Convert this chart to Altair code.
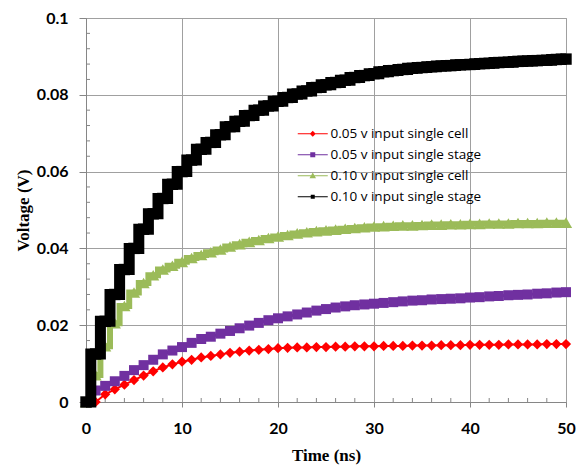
import altair as alt
import pandas as pd

# ---------------- data ----------------
time_ns = list(range(51))

series_names = [
    "0.05 v input single cell",
    "0.05 v input single stage",
    "0.10 v input single cell",
    "0.10 v input single stage",
]

red_cell_005 = [
    0.0, 0.0, 0.002, 0.0033, 0.0045, 0.0057, 0.0069, 0.008, 0.009, 0.0098,
    0.0105, 0.011, 0.0116, 0.012, 0.0124, 0.0128, 0.0131, 0.0134, 0.0136, 0.0138,
    0.014, 0.0141, 0.0142, 0.0142, 0.0143, 0.0143, 0.0144, 0.0144, 0.0145, 0.0145,
    0.0145, 0.0146, 0.0146, 0.0146, 0.0147, 0.0147, 0.0147, 0.0148, 0.0148, 0.0148,
    0.0149, 0.0149, 0.0149, 0.0149, 0.015, 0.015, 0.015, 0.015, 0.0151, 0.0151,
    0.0151,
]

purple_stage_005 = [
    0.0, 0.003, 0.0042, 0.0054, 0.0068, 0.0083, 0.0096, 0.011, 0.0124, 0.0134,
    0.0143, 0.0154, 0.0164, 0.017, 0.0178, 0.0185, 0.0192, 0.0199, 0.0206, 0.0213,
    0.0218, 0.0223, 0.0228, 0.0233, 0.0238, 0.0242, 0.0246, 0.0249, 0.0252, 0.0254,
    0.0256, 0.0258, 0.026, 0.0262, 0.0264, 0.0265, 0.0267, 0.0268, 0.0269, 0.027,
    0.0272, 0.0273, 0.0275, 0.0276, 0.0278, 0.0279, 0.028, 0.0282, 0.0283, 0.0285,
    0.0286,
]

green_cell_010 = [
    0.0, 0.007, 0.0145, 0.0205, 0.025, 0.0285, 0.031, 0.033, 0.0345, 0.0355,
    0.0365, 0.0375, 0.0383, 0.039, 0.0397, 0.0405, 0.0411, 0.0417, 0.0422, 0.0427,
    0.0431, 0.0435, 0.0439, 0.0442, 0.0445, 0.0447, 0.0449, 0.0451, 0.0453, 0.0455,
    0.0457, 0.0458, 0.0459, 0.046, 0.046, 0.0461, 0.0462, 0.0462, 0.0463, 0.0463,
    0.0464, 0.0464, 0.0465, 0.0465, 0.0465, 0.0466, 0.0466, 0.0466, 0.0467, 0.0467,
    0.0467,
]

black_stage_010 = [
    0.0, 0.0125, 0.021, 0.028, 0.0345, 0.040, 0.045, 0.049, 0.053, 0.0567,
    0.060, 0.063, 0.0658, 0.0676, 0.0696, 0.0717, 0.0731, 0.0746, 0.076, 0.0771,
    0.0783, 0.0793, 0.0802, 0.081, 0.0819, 0.0826, 0.0832, 0.0838, 0.0845, 0.085,
    0.0855, 0.086, 0.0863, 0.0866, 0.0869, 0.0871, 0.0873, 0.0875, 0.0876, 0.0878,
    0.0879, 0.0881, 0.0882, 0.0884, 0.0885, 0.0887, 0.0888, 0.0889, 0.089, 0.0892,
    0.0893,
]

series_values = [red_cell_005, purple_stage_005, green_cell_010, black_stage_010]
colors = ["#FF0000", "#7030A0", "#9BBB59", "#000000"]

x_major = [0, 10, 20, 30, 40, 50]
x_minor = [2, 4, 6, 8, 12, 14, 16, 18, 22, 24, 26, 28, 32, 34, 36, 38, 42, 44, 46, 48]
y_major = [0, 0.02, 0.04, 0.06, 0.08, 0.1]
y_minor = [0.004, 0.008, 0.012, 0.016, 0.024, 0.028, 0.032, 0.036, 0.044, 0.048,
           0.052, 0.056, 0.064, 0.068, 0.072, 0.076, 0.084, 0.088, 0.092, 0.096]

# ---------------- styling ----------------
W, H = 480, 384
GRID = "#a0a0a0"
AXIS = "#868686"

marker_shapes = ["diamond", "square", "triangle-up", "square"]
marker_sizes = [105, 100, 150, 130]
line_widths = [2, 3, 6, 11]
line_interp = ["linear", "linear", "step", "step"]

# legend symbols: thin line with a small marker in its middle
legend_paths = [
    "M-1,-0.11L5,-0.11L5,0.11L-1,0.11Z M2,-0.6L2.6,0L2,0.6L1.4,0Z",
    "M-1,-0.11L5,-0.11L5,0.11L-1,0.11Z M1.5,-0.5L2.5,-0.5L2.5,0.5L1.5,0.5Z",
    "M-1,-0.11L5,-0.11L5,0.11L-1,0.11Z M2,-0.65L2.65,0.5L1.35,0.5Z",
    "M-1,-0.11L5,-0.11L5,0.11L-1,0.11Z M1.6,-0.4L2.4,-0.4L2.4,0.4L1.6,0.4Z",
]

xscale = alt.Scale(domain=[0, 50], nice=False, zero=False)
yscale = alt.Scale(domain=[0, 0.1], nice=False)

x_axis = alt.Axis(
    values=x_major, format="d", grid=True, gridColor=GRID, gridWidth=1,
    domainColor=AXIS, tickColor=AXIS, tickSize=5, labelFlush=False,
    labelFont="Lato", labelFontWeight="bold", labelFontSize=16, labelColor="black",
    labelPadding=13, title="Time (ns)", titleFont="Liberation Serif",
    titleFontSize=17, titleFontWeight="bold", titleColor="black", titlePadding=11,
)
y_axis = alt.Axis(
    values=y_major, format="~g", grid=True, gridColor=GRID, gridWidth=1,
    domainColor=AXIS, tickColor=AXIS, tickSize=7, labelFlush=False,
    labelFont="Lato", labelFontWeight="bold", labelFontSize=16, labelColor="black",
    labelPadding=11, title="Voltage (V)", titleFont="Liberation Serif",
    titleFontSize=17, titleFontWeight="bold", titleColor="black", titlePadding=4,
)

X = alt.X("t:Q", scale=xscale, axis=x_axis)
Y = alt.Y("v:Q", scale=yscale, axis=y_axis)

layers = []

# minor ticks (inside the plot)
xminor_df = pd.DataFrame({"t": x_minor})
yminor_df = pd.DataFrame({"v": y_minor})
layers.append(
    alt.Chart(xminor_df).mark_rule(color=AXIS, strokeWidth=1).encode(
        x=X, y=alt.value(H), y2=alt.value(H - 4)
    )
)
layers.append(
    alt.Chart(yminor_df).mark_rule(color=AXIS, strokeWidth=1).encode(
        y=Y, x=alt.value(0), x2=alt.value(4)
    )
)

# data series
frames = []
for name, vals, col, shp, sz, lw, interp in zip(
    series_names, series_values, colors, marker_shapes, marker_sizes, line_widths, line_interp
):
    df = pd.DataFrame({"t": time_ns, "v": vals, "series": name})
    frames.append(df)
    layers.append(
        alt.Chart(df).mark_line(color=col, strokeWidth=lw, interpolate=interp).encode(x=X, y=Y)
    )
    layers.append(
        alt.Chart(df).mark_point(shape=shp, filled=True, size=sz, color=col, opacity=1,
                                 strokeWidth=0).encode(x=X, y=Y)
    )

# invisible layer that only carries the legend
all_df = pd.concat(frames, ignore_index=True)
legend = alt.Legend(
    title=None, orient="none", legendX=210, legendY=109, padding=0,
    labelFont="Open Sans", labelFontSize=13.5, labelColor="black", labelOffset=21,
    labelLimit=400, rowPadding=6, symbolSize=100, symbolStrokeWidth=0, symbolOpacity=1,
)
layers.append(
    alt.Chart(all_df).mark_point(filled=True, opacity=0, size=100).encode(
        x=X, y=Y,
        color=alt.Color("series:N", scale=alt.Scale(domain=series_names, range=colors),
                        legend=legend),
        shape=alt.Shape("series:N", scale=alt.Scale(domain=series_names, range=legend_paths),
                        legend=legend),
    )
)

chart = alt.layer(*layers).properties(
    width=W, height=H,
    autosize=alt.AutoSizeParams(type="none"),
    padding={"left": 78, "top": 10, "right": 10, "bottom": 70},
    background="white",
).configure_view(stroke=GRID, strokeWidth=1)

chart.save("out.html", embed_options={"renderer": "svg", "actions": False})
